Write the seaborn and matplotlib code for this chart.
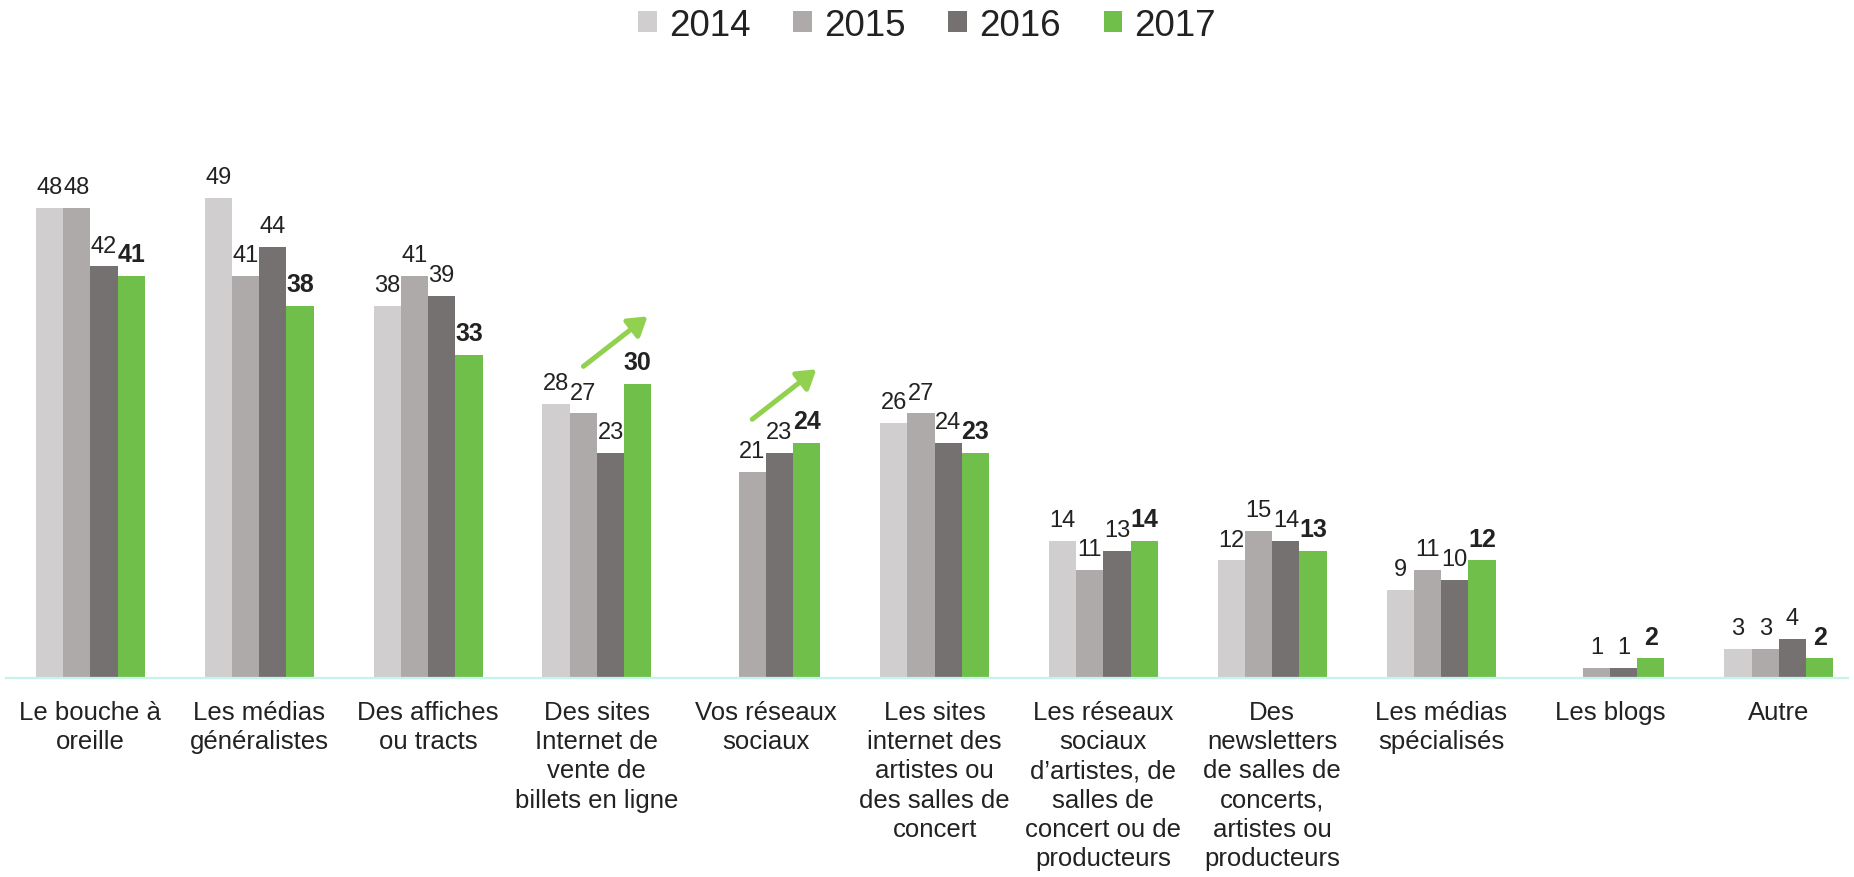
import numpy as np
import pandas as pd
import seaborn as sns
import matplotlib.pyplot as plt

categories = [
    "Le bouche à\noreille",
    "Les médias\ngénéralistes",
    "Des affiches\nou tracts",
    "Des sites\nInternet de\nvente de\nbillets en ligne",
    "Vos réseaux\nsociaux",
    "Les sites\ninternet des\nartistes ou\ndes salles de\nconcert",
    "Les réseaux\nsociaux\nd’artistes, de\nsalles de\nconcert ou de\nproducteurs",
    "Des\nnewsletters\nde salles de\nconcerts,\nartistes ou\nproducteurs",
    "Les médias\nspécialisés",
    "Les blogs",
    "Autre",
]
years = ["2014", "2015", "2016", "2017"]
v2014 = [48, 49, 38, 28, np.nan, 26, 14, 12, 9, np.nan, 3]
v2015 = [48, 41, 41, 27, 21, 27, 11, 15, 11, 1, 3]
v2016 = [42, 44, 39, 23, 23, 24, 13, 14, 10, 1, 4]
v2017 = [41, 38, 33, 30, 24, 23, 14, 13, 12, 2, 2]

# trend arrows: (category index, start value, end value)
arrows = [(3, 31.8, 36.9), (4, 26.4, 31.5)]

colors = ["#d0cece", "#aeaaaa", "#767171", "#70bf4b"]

rows = []
for year, vals in zip(years, [v2014, v2015, v2016, v2017]):
    for cat, v in zip(categories, vals):
        if not np.isnan(v):
            rows.append({"cat": cat, "year": year, "value": v})
df = pd.DataFrame(rows)

sns.set_style("white")
plt.rcParams["font.family"] = ["Liberation Sans", "DejaVu Sans"]
text_color = "#222222"

fig = plt.figure(figsize=(18.54, 8.78), dpi=100)
ax = fig.add_axes([6 / 1854, 0.2267, 1842 / 1854, 0.558])

sns.barplot(data=df, x="cat", y="value", hue="year", order=categories,
            hue_order=years, palette=colors, width=0.645, linewidth=0,
            saturation=1, errorbar=None, ax=ax)

for i, cont in enumerate(ax.containers):
    bold = years[i] == "2017"
    ax.bar_label(cont, fmt="%d", padding=7, fontsize=18 if bold else 17,
                 fontweight="bold" if bold else "normal", color=text_color)

for idx, y0, y1 in arrows:
    ax.annotate("", xy=(idx + 0.3, y1), xytext=(idx - 0.08, y0),
                arrowprops=dict(arrowstyle="-|>,head_length=0.55,head_width=0.35",
                                lw=3.6, color="#92d050", shrinkA=0, shrinkB=0,
                                mutation_scale=20))

ax.set_xlim(-0.5, 10.41)
ax.set_ylim(0, 50)
ax.set_xlabel("")
ax.set_ylabel("")
ax.set_yticks([])
ax.tick_params(axis="x", length=0, pad=16, labelsize=18.5, labelcolor=text_color)
for lab in ax.get_xticklabels():
    lab.set_linespacing(1.27)
for s in ["left", "top", "right"]:
    ax.spines[s].set_visible(False)
ax.spines["bottom"].set_color("#c6f3ec")
ax.spines["bottom"].set_linewidth(1.6)

sns.move_legend(ax, "center", bbox_to_anchor=(0.5, 0.970),
                bbox_transform=fig.transFigure, ncol=4, frameon=False,
                title=None, fontsize=26.5, handlelength=0.5, handleheight=0.5,
                handletextpad=0.33, columnspacing=1.17)
for t in ax.get_legend().get_texts():
    t.set_color(text_color)

fig.savefig("out.png", dpi=100)
